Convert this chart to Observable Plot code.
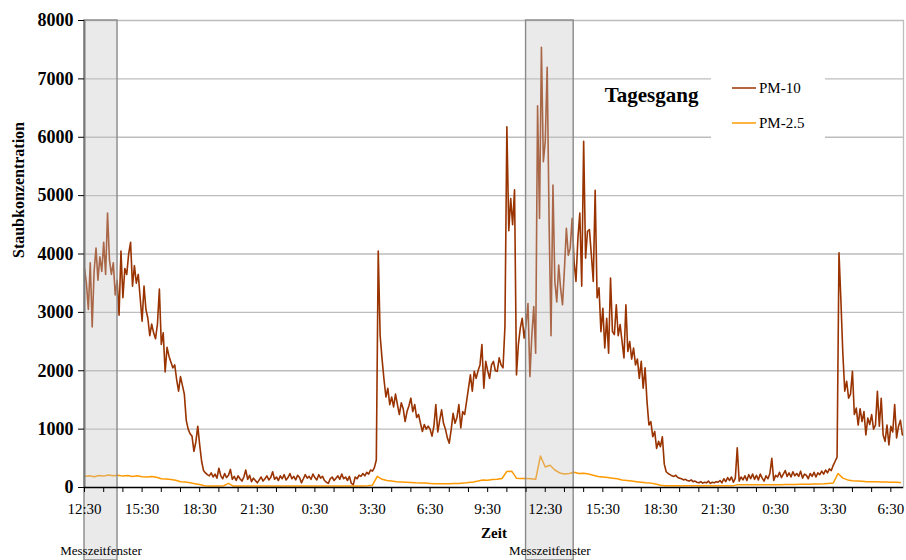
<!DOCTYPE html>
<html>
<head>
<meta charset="utf-8">
<script src="https://cdn.jsdelivr.net/npm/d3@7"></script>
<script src="https://cdn.jsdelivr.net/npm/@observablehq/plot@0.6"></script>
<style>
  html, body { margin: 0; padding: 0; background: white; }
</style>
</head>
<body>
<div id="chart"></div>
<script>
// ---------------- data ----------------
// time axis: hours since 12:30 of the first day
const xLabels = ["12:30","15:30","18:30","21:30","0:30","3:30","6:30","9:30",
                 "12:30","15:30","18:30","21:30","0:30","3:30","6:30"];
const yTicks = [0,1000,2000,3000,4000,5000,6000,7000,8000];
const seriesNames = ["PM-10", "PM-2.5"];

// PM-10, one reading every 0.1 h (6 min)
const pm10Step = 0.1;
const pm10 = [
  3750,3500,3050,3850,2750,3700,4100,3550,3950,3700,
  4200,3650,4700,3900,3650,3850,3300,3550,2950,4050,
  3250,3750,3650,4000,4200,3450,3800,3500,3650,3250,
  2850,3450,3050,2900,2600,2800,2650,2550,2800,3400,
  2450,2650,1980,2400,2250,2150,2050,2100,1850,1650,
  1900,1750,1600,1150,1000,920,880,620,780,1050,
  730,450,290,250,220,200,250,180,230,160,
  330,200,150,240,170,210,310,140,190,120,
  200,150,110,180,300,140,210,100,160,120,
  80,130,180,110,150,200,130,170,270,140,
  180,120,200,150,220,130,170,240,150,190,
  130,210,170,80,150,220,160,190,140,230,
  170,130,220,160,190,120,90,70,150,180,
  120,160,200,140,230,150,180,120,190,70,
  50,180,150,210,190,240,200,260,230,300,
  280,340,470,4050,2600,2200,1850,1550,1700,1420,
  1550,1380,1600,1420,1250,1450,1350,1130,1300,1400,
  1530,1300,1420,1200,1250,1100,960,1080,1000,1050,
  1000,880,1050,1420,950,1150,1330,1100,1000,850,
  760,990,1270,1100,1200,1420,1020,1300,1250,1470,
  1700,1930,1650,1990,1870,2000,2100,2450,1700,2160,
  2000,1870,2100,2160,2000,1990,2220,2100,2050,2760,
  6180,4400,4950,4500,5100,1930,2450,2730,2900,2560,
  2800,3150,1900,2600,3100,2300,6540,4610,7540,5580,
  5930,7200,4550,2600,5180,3520,3180,3810,3410,3130,
  3750,4440,3980,4100,4610,3870,3530,4270,4700,3450,
  5930,3930,4390,4420,3990,3530,5090,3250,3420,2670,
  3070,2390,2900,2300,3590,2670,2620,3130,2600,2790,
  2500,2220,3130,2330,2500,2200,2390,2100,2200,1870,
  2160,1700,2050,1470,1070,1130,870,960,670,790,
  700,870,400,270,240,220,200,190,210,170,
  160,150,130,140,120,110,130,100,110,90,
  80,100,75,90,80,110,70,90,80,100,
  90,120,80,150,100,170,120,180,90,160,
  680,110,180,130,200,120,220,150,230,140,
  210,130,230,160,110,200,150,240,500,120,
  210,180,260,170,230,290,190,250,180,270,
  200,240,190,280,160,230,210,150,240,190,
  260,180,250,220,280,230,300,250,320,290,
  380,450,520,4020,3200,2300,1650,1820,1530,1600,
  1990,1250,1360,1070,1350,1130,1300,900,1190,1080,
  1250,1000,1070,1650,1050,1530,900,790,1070,730,
  1050,950,1420,850,1050,1150,900
];

// PM-2.5, one reading every 0.25 h
const pm25Step = 0.25;
const pm25 = [
  190,200,185,205,195,215,200,210,
  195,205,190,200,185,180,190,175,
  150,145,135,125,100,95,80,65,
  50,30,25,25,25,30,70,25,
  25,25,25,25,25,25,25,25,
  25,25,25,25,25,25,25,25,
  25,25,25,25,25,25,25,25,
  25,25,25,30,40,190,140,120,
  110,100,95,90,85,80,78,75,
  70,65,65,63,65,70,70,75,
  85,95,110,130,125,135,140,155,
  275,280,160,155,155,150,140,540,
  350,380,300,250,230,240,260,240,
  245,230,210,190,180,170,160,150,
  130,120,110,100,90,80,75,60,
  40,30,28,28,28,28,28,28,
  28,28,28,28,28,28,28,28,
  45,45,45,45,45,45,45,45,
  45,48,50,50,52,55,55,57,
  60,62,65,70,75,240,160,130,
  115,110,105,100,100,100,95,95,
  90,90,85
];

// measuring windows ("Messzeitfenster"), hours since 12:30
const windowStart = [0, 23.0];
const windowEnd = [1.72, 25.48];

// ---------------- layout ----------------
const W = 906, H = 560;
const xEnd = 42.66;          // last hour shown
const yBelow = -1250;        // value at the bottom edge of the picture (window boxes reach down there)
const colors = {"PM-10": "#993300", "PM-2.5": "#FF9900"};
const font = "'Liberation Serif', 'Times New Roman', serif";

const d10 = pm10.map((v, i) => ({t: i * pm10Step, v}));
const d25 = pm25.map((v, i) => ({t: i * pm25Step, v}));
const windows = windowStart.map((s, i) => ({s, e: windowEnd[i]}));
const hourTicks = d3.range(0, 43);

const chart = Plot.plot({
  width: W, height: H,
  marginLeft: 84, marginRight: 3, marginTop: 20, marginBottom: 73,
  style: {fontFamily: font, background: "white", color: "black", overflow: "visible"},
  x: {domain: [0, xEnd]},
  y: {domain: [0, 8000]},
  marks: [
    Plot.gridY(yTicks.filter(d => d > 0), {stroke: "#bdbdbd", strokeOpacity: 1, strokeWidth: 1.3}),
    Plot.frame({anchor: "right", stroke: "#bdbdbd", strokeWidth: 1.3}),
    Plot.line(d25, {x: "t", y: "v", stroke: colors["PM-2.5"], strokeWidth: 1.5}),
    Plot.line(d10, {x: "t", y: "v", stroke: colors["PM-10"], strokeWidth: 1.6}),
    Plot.rect(windows, {x1: "s", x2: "e", y1: 8000, y2: yBelow,
      fill: "#c4c4c4", fillOpacity: 0.36, stroke: "#8a8a8a", strokeWidth: 1.4}),
    Plot.ruleX([0], {stroke: "#7a7a7a", strokeWidth: 2}),
    Plot.ruleY([0], {stroke: "black", strokeWidth: 1.5}),
    Plot.axisY({ticks: yTicks, tickSize: 6, tickPadding: 5, label: null,
      fontSize: 18, fontWeight: "bold", tickFormat: d => String(d)}),
    Plot.axisX({ticks: hourTicks, tickSize: 5, tickPadding: 11, label: null,
      fontSize: 15, tickFormat: d => (d % 3 === 0 ? xLabels[d / 3] : "")}),
    Plot.text(windows, {x: d => (d.s + d.e) / 2, frameAnchor: "bottom", dy: 67,
      text: () => "Messzeitfenster", fontSize: 13}),
    Plot.text(["Zeit"], {frameAnchor: "bottom", dy: 50, fontSize: 15, fontWeight: "bold"}),
    Plot.text(["Staubkonzentration"], {frameAnchor: "left", dx: -66, dy: 4, rotate: -90,
      fontSize: 16, fontWeight: "bold"}),
    Plot.text(["Tagesgang"], {frameAnchor: "top-left", dx: 567, dy: 67, textAnchor: "middle",
      fontSize: 21, fontWeight: "bold"})
  ]
});

// legend box (covers the grid lines like the original)
const svg = d3.select(chart);
const lg = svg.append("g").attr("font-family", font).attr("text-anchor", "start");
lg.append("rect").attr("x", 711).attr("y", 68).attr("width", 114).attr("height", 76).attr("fill", "white");
const legendY = [88, 123];
seriesNames.forEach((name, i) => {
  lg.append("line").attr("x1", 732).attr("x2", 756).attr("y1", legendY[i]).attr("y2", legendY[i])
    .attr("stroke", colors[name]).attr("stroke-width", 2).attr("stroke-opacity", 0.75);
  lg.append("text").attr("x", 759).attr("y", legendY[i]).attr("dy", "0.35em")
    .attr("text-anchor", "start").attr("font-size", 15).attr("fill", "black").text(name);
});

document.getElementById("chart").appendChild(chart);
</script>
</body>
</html>
